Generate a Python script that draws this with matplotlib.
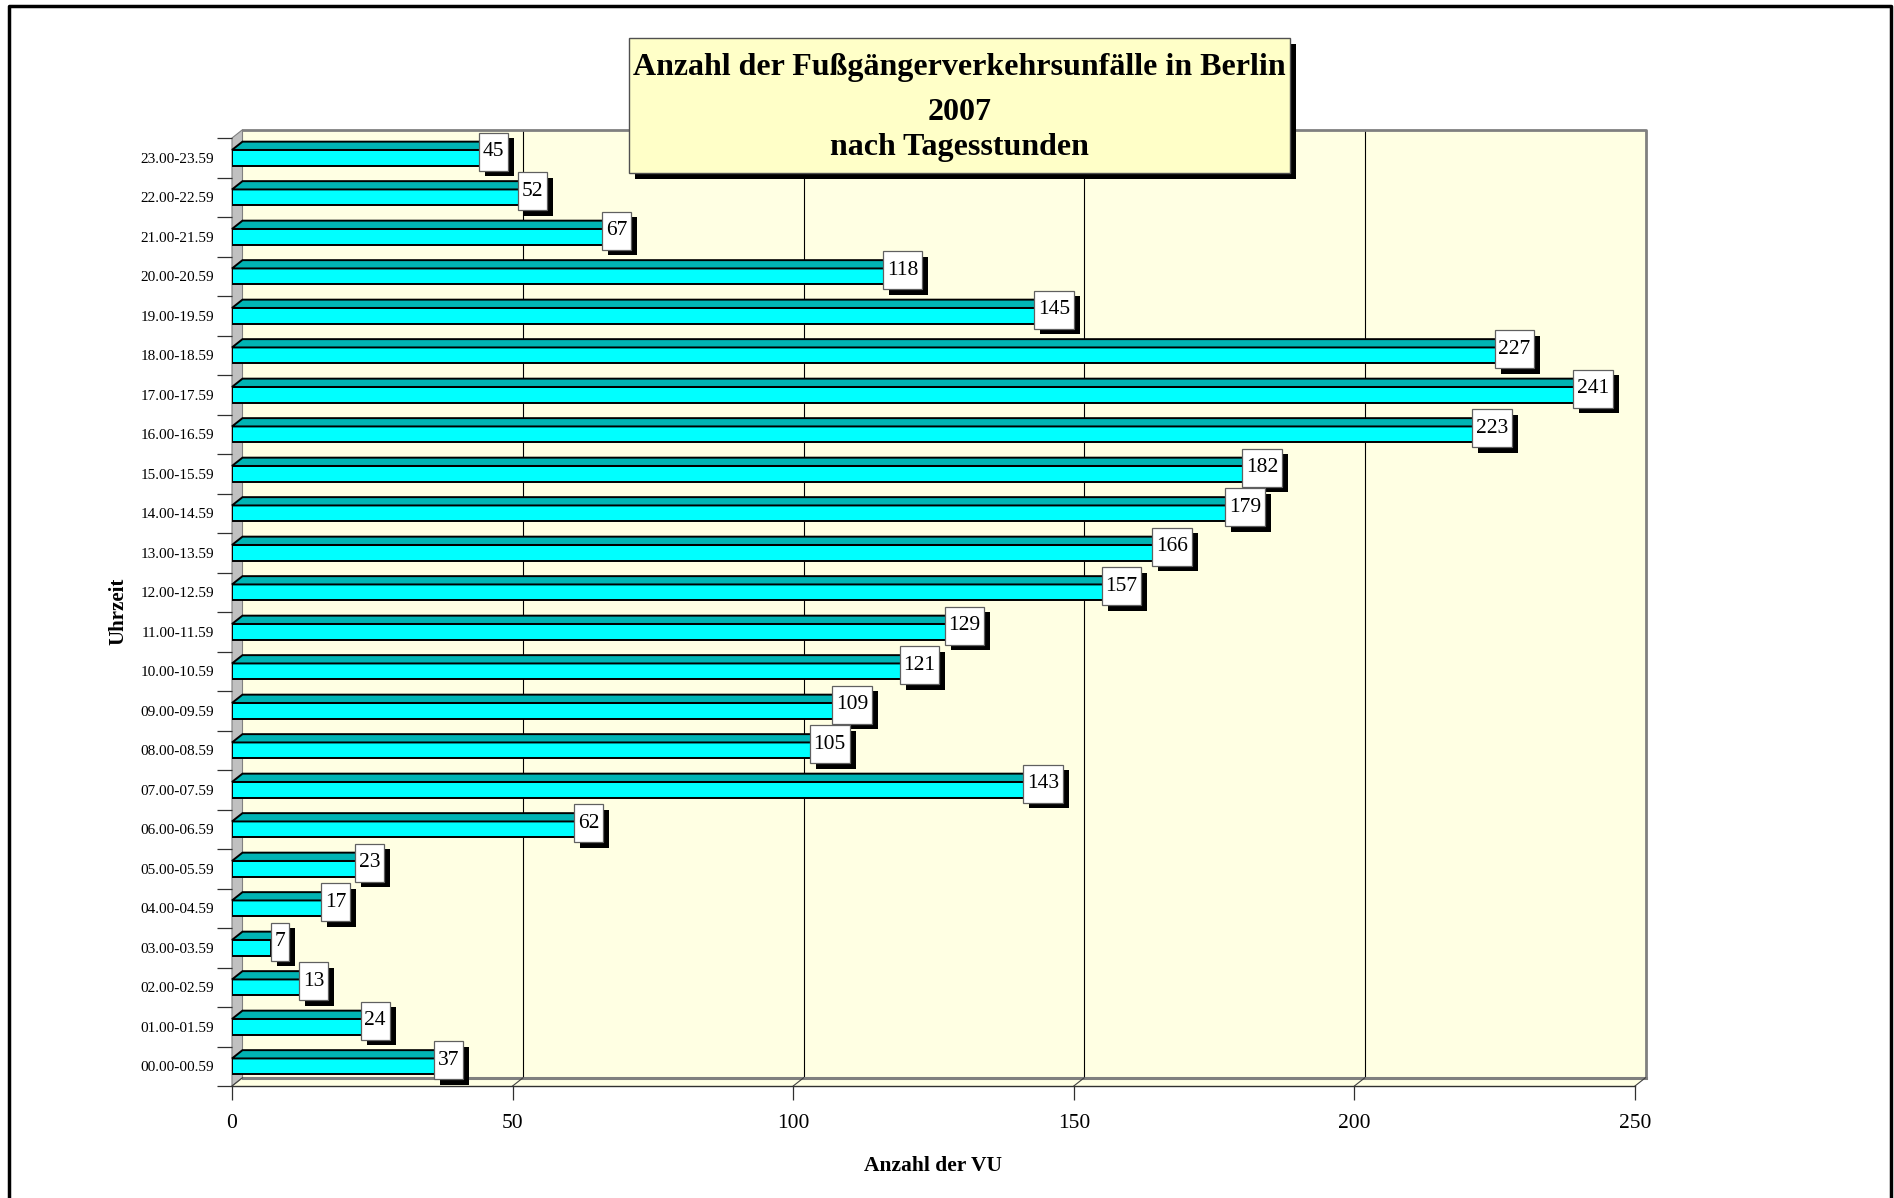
import matplotlib
matplotlib.use("Agg")
import matplotlib.pyplot as plt
from matplotlib.patches import Rectangle, Polygon
from matplotlib.lines import Line2D

plt.rcParams['font.family'] = ['Liberation Serif', 'DejaVu Serif']

categories = ["00.00-00.59", "01.00-01.59", "02.00-02.59", "03.00-03.59",
              "04.00-04.59", "05.00-05.59", "06.00-06.59", "07.00-07.59",
              "08.00-08.59", "09.00-09.59", "10.00-10.59", "11.00-11.59",
              "12.00-12.59", "13.00-13.59", "14.00-14.59", "15.00-15.59",
              "16.00-16.59", "17.00-17.59", "18.00-18.59", "19.00-19.59",
              "20.00-20.59", "21.00-21.59", "22.00-22.59", "23.00-23.59"]
values = [37, 24, 13, 7, 17, 23, 62, 143, 105, 109, 121, 129,
          157, 166, 179, 182, 223, 241, 227, 145, 118, 67, 52, 45]
x_ticks = [0, 50, 100, 150, 200, 250]
title_lines = ["Anzahl der Fußgängerverkehrsunfälle in Berlin", "2007", "nach Tagesstunden"]
x_label = "Anzahl der VU"
y_label = "Uhrzeit"

W, H = 1894, 1198
fig = plt.figure(figsize=(W / 100, H / 100), dpi=100)
fig.patch.set_facecolor('white')

ax_l, ax_r = 232 / W, 1635 / W
ax_b, ax_t = 1 - 1086 / H, 1 - 138 / H
ax = fig.add_axes([ax_l, ax_b, ax_r - ax_l, ax_t - ax_b])
ax.set_facecolor('none')
xmax = x_ticks[-1]
n = len(categories)
ax.set_xlim(0, xmax)
ax.set_ylim(-0.5, n - 0.5)

ax_w_px = (ax_r - ax_l) * W
ax_h_px = (ax_t - ax_b) * H
px_x = ax_w_px / xmax          # pixels per x unit
px_y = ax_h_px / n             # pixels per category
dx = 10.5 / px_x
dy = 8.3 / px_y
bh = 15.6 / px_y

wall_c = '#FFFFE3'
# back wall
ax.add_patch(Rectangle((dx, -0.5 + dy), xmax, n, facecolor=wall_c, edgecolor='none',
                       zorder=0.5, clip_on=False))
ax.add_line(Line2D([dx, xmax + dx, xmax + dx], [n - 0.5 + dy, n - 0.5 + dy, -0.5 + dy],
                   color='#808080', lw=2.0, zorder=0.9, clip_on=False))
# grid lines on back wall and floor
for t in x_ticks[1:-1]:
    ax.add_line(Line2D([t + dx, t + dx], [-0.5 + dy, n - 0.5 + dy], color='black', lw=0.8,
                       zorder=0.8, clip_on=False))
# floor
ax.add_patch(Polygon([(0, -0.5), (xmax, -0.5), (xmax + dx, -0.5 + dy), (dx, -0.5 + dy)],
                     closed=True, facecolor=wall_c, edgecolor='none', zorder=0.6, clip_on=False))
ax.add_line(Line2D([dx, xmax + dx], [-0.5 + dy, -0.5 + dy], color='#808080', lw=2.2,
                   zorder=0.9, clip_on=False))
for t in x_ticks:
    ax.add_line(Line2D([t, t + dx], [-0.5, -0.5 + dy], color='#404040', lw=0.8,
                       zorder=0.9, clip_on=False))
# left wall
ax.add_patch(Polygon([(0, -0.5), (dx, -0.5 + dy), (dx, n - 0.5 + dy), (0, n - 0.5)],
                     closed=True, facecolor='#C0C0C0', edgecolor='#808080', lw=0.8,
                     zorder=0.7, clip_on=False))

# bars
front_c = '#00FFFF'
top_c = '#00B4B4'
side_c = '#008C8C'
for i, v in enumerate(values):
    ax.barh(i, v, height=bh, left=0, color=front_c, edgecolor='black', lw=1.4, zorder=3)
    yt = i + bh / 2
    ax.add_patch(Polygon([(0, yt), (v, yt), (v + dx, yt + dy), (dx, yt + dy)], closed=True,
                         facecolor=top_c, edgecolor='black', lw=1.4, zorder=3, clip_on=False))
    ax.add_patch(Polygon([(v, i - bh / 2), (v + dx, i - bh / 2 + dy), (v + dx, yt + dy), (v, yt)],
                         closed=True, facecolor=side_c, edgecolor='black', lw=1.4, zorder=3,
                         clip_on=False))

# value label boxes
for i, v in enumerate(values):
    s = str(v)
    bw_px = 10.5 * len(s) + 8
    bh_px = 38
    cx = v + 8.5 / px_x
    cy = i + 6.0 / px_y
    w = bw_px / px_x
    h = bh_px / px_y
    sx, sy = 6 / px_x, 5.5 / px_y
    ax.add_patch(Rectangle((cx - w / 2 + sx, cy - h / 2 - sy), w, h, facecolor='black',
                           edgecolor='none', zorder=5, clip_on=False))
    ax.add_patch(Rectangle((cx - w / 2, cy - h / 2), w, h, facecolor='white',
                           edgecolor='#606060', lw=0.9, zorder=6, clip_on=False))
    ax.text(cx, cy, s, ha='center', va='center', fontsize=15.5, color='black', zorder=7)

# axes styling
for sp in ['top', 'right', 'left']:
    ax.spines[sp].set_visible(False)
ax.spines['bottom'].set_color('#303030')
ax.spines['bottom'].set_linewidth(1.0)
ax.spines['bottom'].set_zorder(1)
ax.set_xticks(x_ticks)
ax.set_xticklabels([str(t) for t in x_ticks], fontsize=15.5)
ax.tick_params(axis='x', direction='out', length=10, width=0.9, pad=10, color='#303030')
ax.set_yticks(range(n))
ax.set_yticklabels(categories, fontsize=11)
ax.set_yticks([k - 0.5 for k in range(n + 1)], minor=True)
ax.tick_params(axis='y', which='major', length=0, pad=13)
ax.tick_params(axis='y', which='minor', length=10.5, width=0.9, color='#303030')

# axis titles
fig.text((ax_l + ax_r) / 2, 1 - 1166 / H, x_label, ha='center', va='center',
         fontsize=15.5, fontweight='bold')
fig.text(118 / W, 1 - 611 / H, y_label, ha='center', va='center', rotation=90,
         fontsize=15, fontweight='bold')

# title box
bx0, bx1 = 629 / W, 1290 / W
by0, by1 = 1 - 173 / H, 1 - 38 / H
fig.add_artist(Rectangle((bx0 + 6 / W, by0 - 5.5 / H), bx1 - bx0, by1 - by0,
                         transform=fig.transFigure, facecolor='black', edgecolor='none',
                         zorder=10))
fig.add_artist(Rectangle((bx0, by0), bx1 - bx0, by1 - by0, transform=fig.transFigure,
                         facecolor='#FFFFC8', edgecolor='#505050', lw=1.0, zorder=11))
tcx = (bx0 + bx1) / 2
for line, yy in zip(title_lines, [67, 112, 148]):
    fig.text(tcx, 1 - yy / H, line, ha='center', va='center', fontsize=23,
             fontweight='bold', zorder=12)

# outer frame
fig.add_artist(Line2D([9 / W, 9 / W, 1891 / W, 1891 / W], [0, 1 - 6 / H, 1 - 6 / H, 0],
                      transform=fig.transFigure, color='black', lw=2.5, zorder=20))

fig.savefig('out.png', dpi=100)
